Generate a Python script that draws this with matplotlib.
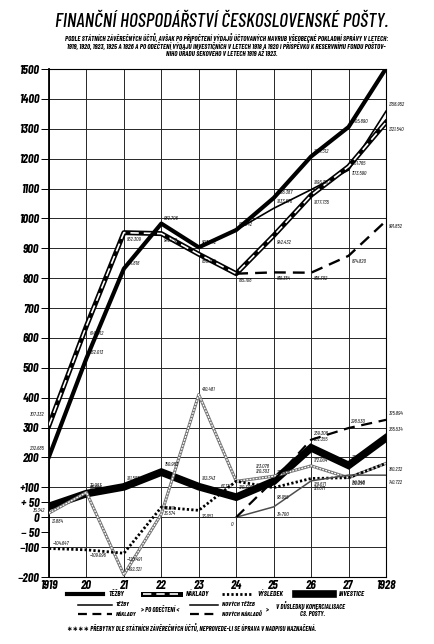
import matplotlib
matplotlib.use("Agg")
import matplotlib.pyplot as plt
from matplotlib.lines import Line2D

plt.rcParams['font.family'] = ['Barlow Condensed', 'DejaVu Sans']

# --- data (miliony Kč) ---
years = [1919, 1920, 1921, 1922, 1923, 1924, 1925, 1926, 1927, 1928]
xlabels = ['1919', '20', '21', '22', '23', '24', '25', '26', '27', '1928']

tezby = [202.685, 532.013, 831.818, 982.706, 903.242, 961.242, 1068.387, 1207.312, 1305.890, 1501.780]
naklady = [307.332, 640.012, 952.309, 949.132, 880.190, 815.108, 942.432, 1077.735, 1173.590, 1321.540]
vysledek = [-104.647, -109.096, -120.491, 33.574, 23.051, 120.336, 98.955, 129.671, 132.290, 180.232]
investice = [36.342, 79.063, 101.597, 150.983, 102.343, 67.170, 120.303, 232.355, 173.514, 265.534]
prebytky = [13.884, 83.049, -192.321, 10.574, 410.481, 120.336, 137.303, 172.004, 132.290, 180.232]

years_new = [1924, 1925, 1926, 1927, 1928]
tezby_po = [961.242, 1033.676, 1096.350, 1161.765, 1358.952]
naklady_po = [815.108, 819.354, 818.302, 874.820, 991.852]
nove_tezby = [0.0, 34.700, 121.671, 141.048, 140.722]
nove_naklady = [0.0, 123.078, 259.308, 298.530, 325.894]

ytick_major = list(range(-200, 1501, 100))
ytick_major_lbl = ['−200', '−100', '0', '+100', '200', '300', '400', '500', '600', '700',
                   '800', '900', '1000', '1100', '1200', '1300', '1400', '1500']
ytick_minor = [-50, 50]
ytick_minor_lbl = ['− 50', '+ 50']

fig = plt.figure(figsize=(4.35, 6.44), dpi=100)
fig.patch.set_facecolor('white')
ax = fig.add_axes([49/435, 1-577/644, (386-49)/435, (577-69)/644])

ax.set_xlim(1919, 1928)
ax.set_ylim(-200, 1500)
ax.set_xticks(years)
ax.set_xticklabels(xlabels)
ax.set_yticks(ytick_major)
ax.set_yticklabels(ytick_major_lbl)
ax.set_yticks(ytick_minor, labels=ytick_minor_lbl, minor=True)
ax.grid(True, which='major', color='0.15', lw=0.7)
ax.set_axisbelow(True)
for s in ax.spines.values():
    s.set_linewidth(0.8)
ax.spines['left'].set_linewidth(1.3)
ax.tick_params(axis='y', which='both', length=6, width=0.7, pad=1)
ax.tick_params(axis='x', length=0, pad=2)
for t in ax.get_yticklabels(which='both') + ax.get_xticklabels():
    t.set_fontstyle('italic')
    t.set_fontweight('bold')
    t.set_fontsize(9)

# --- series ---
ax.plot(years, investice, color='black', lw=5.5, solid_joinstyle='miter', zorder=3)
ax.plot(years, prebytky, color='0.45', lw=2.2, zorder=3)
ax.plot(years, prebytky, color='white', lw=0.9, ls=(0, (1.5, 1)), zorder=3)
ax.plot(years, vysledek, color='black', lw=2.0, ls=(0, (0.8, 0.8)), zorder=4)
ax.plot(years_new, nove_tezby, color='0.3', lw=1.1, zorder=4)
ax.plot(years_new, nove_naklady, color='black', lw=1.6, ls=(0, (5, 3)), zorder=4)
ax.plot(years_new, tezby_po, color='black', lw=1.2, zorder=4)
ax.plot(years_new, naklady_po, color='black', lw=1.7, ls=(0, (5, 3)), zorder=4)
ax.plot(years, naklady, color='black', lw=3.6, zorder=5)
ax.plot(years, naklady, color='white', lw=1.2, ls=(0, (5, 3)), zorder=5)
ax.plot(years, tezby, color='black', lw=3.0, zorder=6)


def fmt(v):
    return ('%.3f' % v).replace('.', ',').replace('-', '−')


def labels(xs, vals, dy=3, skip=(), special=None):
    special = special or {}
    for x, v in zip(xs, vals):
        if x in skip:
            continue
        if x in special:
            dx, yy, ha = special[x]
        elif x == 1919:
            dx, yy, ha = -3, 3, 'right'
        else:
            dx, yy, ha = 2, dy, 'left'
        ax.annotate(fmt(v), (x, v), xytext=(dx, yy), textcoords='offset points',
                    fontsize=4.2, style='italic', ha=ha, va='bottom', zorder=7)


labels(years, tezby, dy=2, special={1919: (-3, 4, 'right')})
labels(years, naklady, dy=-7, special={1919: (-3, 6, 'right')})
labels(years, vysledek, dy=-6, special={1919: (3, 2, 'left'), 1925: (2, -9, 'left')})
labels(years, investice, dy=4, special={1919: (-3, -5, 'right'), 1924: (-3, 6, 'right'),
                                        1925: (-3, 5, 'right')})
labels(years, prebytky, dy=2, skip=(1924, 1927, 1928), special={1919: (2, -8, 'left'),
                                                              1925: (2, 1, 'left')})
labels(years_new, tezby_po, dy=3, skip=(1924,))
labels(years_new, naklady_po, dy=-6, skip=(1924,))
labels(years_new, nove_tezby, dy=-7, skip=(1924,))
labels(years_new, nove_naklady, dy=3, skip=(1924,), special={1925: (-3, 8, 'right')})
ax.annotate('0', (1924, 0), xytext=(-2, -7), textcoords='offset points',
            fontsize=4.2, style='italic', ha='right', va='bottom')

# --- title and heading ---
fig.text(0.51, 1-22/644, 'FINANČNÍ HOSPODÁŘSTVÍ ČESKOSLOVENSKÉ POŠTY.',
         ha='center', va='center', fontsize=14, style='italic', fontweight='medium')
sub = dict(fontsize=5.0, style='italic', fontweight='bold', ha='center', va='center')
fig.text(0.52, 1-38/644, 'PODLE STÁTNÍCH ZÁVĚREČNÝCH ÚČTŮ, AVŠAK PO PŘIPOČTENÍ VÝDAJŮ ÚČTOVANÝCH '
         'NAVRUB VŠEOBECNÉ POKLADNÍ SPRÁVY V LETECH:', **sub)
fig.text(0.52, 1-45.5/644, '1919, 1920, 1923, 1925 A 1926 A PO ODEČTENÍ VÝDAJŮ INVESTIČNÍCH V LETECH '
         '1918 A 1920 I PŘÍSPĚVKŮ K RESERVNÍMU FONDU POŠTOV-', **sub)
fig.text(0.51, 1-53.5/644, 'NÍHO ÚŘADU ŠEKOVÉHO V LETECH 1919 AŽ 1923.', **sub)

# --- legend drawn below the chart ---
def key(x0, x1, y, **kw):
    fig.add_artist(Line2D([x0/435, x1/435], [1-y/644, 1-y/644], transform=fig.transFigure, **kw))


def ktext(x, y, s, size=5.2):
    fig.text(x/435, 1-y/644, s, fontsize=size, style='italic', fontweight='bold', va='center')


key(67, 103, 594, color='black', lw=3.0)
ktext(108, 594, 'TĚŽBY')
key(143, 180, 594, color='black', lw=3.6)
key(143, 180, 594, color='white', lw=1.2, ls=(0, (5, 3)))
ktext(186, 594, 'NÁKLADY')
key(222, 252, 594, color='black', lw=2.0, ls=(0, (0.8, 0.8)))
ktext(257, 594, 'VÝSLEDEK')
key(296, 333, 594, color='black', lw=5.5)
ktext(339, 594, 'INVESTICE')

key(78, 112, 605, color='black', lw=1.1)
ktext(116, 605, 'TĚŽBY', 4.6)
key(78, 112, 614, color='black', lw=1.6, ls=(0, (4, 2.5)))
ktext(116, 614, 'NÁKLADY', 4.6)
ktext(141, 609.5, '> PO ODEČTENÍ <', 4.8)
key(190, 218, 605, color='black', lw=1.1)
ktext(222, 605, 'NOVÝCH TĚŽEB', 4.6)
key(190, 218, 614, color='black', lw=1.6, ls=(0, (4, 2.5)))
ktext(222, 614, 'NOVÝCH NÁKLADŮ', 4.6)
ktext(266, 609.5, '>', 4.8)
ktext(276, 606, 'V DŮSLEDKU KOMERCIALISACE', 4.8)
ktext(300, 614, 'ČS. POŠTY.', 4.8)
ktext(67, 628, '∗∗∗∗ PŘEBYTKY DLE STÁTNÍCH ZÁVĚREČNÝCH ÚČTŮ, NEPROVEDE-LI SE ÚPRAVA V NADPISU NAZNAČENÁ.', 4.8)

fig.savefig('out.png', dpi=100, facecolor='white')
